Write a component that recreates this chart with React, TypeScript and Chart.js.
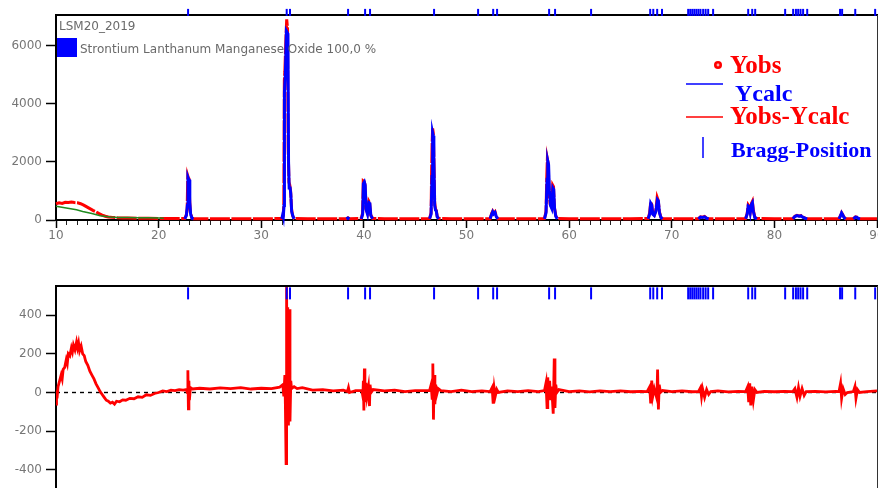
import React, { useEffect, useRef } from 'react';
import { Chart, registerables } from 'chart.js';
Chart.register(...registerables);

// ---------- data ----------
const xRange = [10, 90];
const topYTicks = [0, 2000, 4000, 6000];
const diffYTicks = [-400, -200, 0, 200, 400];

const sampleName = 'LSM20_2019';
const phaseName = 'Strontium Lanthanum Manganese Oxide 100,0 %';
const legendLabels = ['Yobs', 'Ycalc', 'Yobs-Ycalc', 'Bragg-Position'];

// observed intensity (2θ, counts)
const yobsPoints: [number, number][] = [
  [10.0, 560], [10.3, 590], [10.6, 570], [10.9, 610], [11.2, 600], [11.5, 620], [11.8, 600], [12.1, 590],
  [12.4, 560], [12.7, 510], [13.0, 450], [13.3, 390], [13.6, 330], [13.9, 280], [14.2, 220], [14.5, 170],
  [14.8, 130], [15.1, 105], [15.5, 90], [16.0, 75], [16.5, 70], [17.0, 66], [18.0, 62], [19.0, 58],
  [20.0, 55], [21.0, 52], [22.0, 50], [22.55, 50],
  [22.7, 180], [22.78, 380], [22.84, 1520], [22.9, 1450], [22.96, 1420], [23.02, 700], [23.1, 250], [23.25, 70],
  [23.4, 45], [24.5, 45], [26, 44], [28, 45], [30, 45], [31.5, 48], [32.0, 50],
  [32.15, 150], [32.2, 600], [32.25, 4800], [32.3, 5100], [32.4, 6200], [32.48, 6900], [32.56, 6600],
  [32.62, 2500], [32.7, 1300], [32.78, 1200], [32.86, 1000], [32.95, 400], [33.05, 150],
  [33.2, 50], [34.5, 45], [36, 44], [37.5, 44], [38.3, 45], [38.45, 75], [38.6, 45], [39.75, 50],
  [39.88, 250], [39.94, 1350], [40.02, 1330], [40.1, 1250], [40.2, 400], [40.35, 250], [40.48, 650],
  [40.56, 600], [40.66, 180], [40.85, 50], [42, 44], [44, 43], [45.5, 44], [46.4, 50],
  [46.55, 250], [46.6, 1650], [46.65, 2650], [46.7, 3150], [46.76, 3000], [46.82, 2200], [46.9, 600],
  [46.98, 380], [47.06, 330], [47.15, 120], [47.3, 50], [48.5, 44], [50, 43], [51.5, 44], [52.3, 45],
  [52.45, 220], [52.55, 300], [52.65, 230], [52.78, 280], [52.9, 130], [53.05, 45], [54.5, 43], [56, 43],
  [57.6, 50], [57.75, 300], [57.82, 1440], [57.88, 2100], [57.96, 1950], [58.04, 960], [58.15, 550],
  [58.3, 450], [58.4, 1200], [58.48, 1150], [58.56, 450], [58.7, 150], [58.85, 50], [60, 43], [62, 43],
  [64, 43], [66, 44], [67.7, 50], [67.85, 250], [67.95, 620], [68.05, 540], [68.15, 230], [68.3, 170],
  [68.45, 330], [68.58, 780], [68.68, 680], [68.8, 280], [68.95, 90], [69.1, 50], [70.5, 43], [72.0, 45],
  [72.6, 45], [72.8, 110], [73.0, 95], [73.2, 120], [73.4, 65], [73.6, 45], [75, 43], [77.2, 50],
  [77.35, 230], [77.45, 520], [77.55, 470], [77.65, 280], [77.78, 580], [77.86, 640], [77.95, 330],
  [78.1, 90], [78.3, 50], [80, 43], [81.8, 45], [82.0, 130], [82.2, 160], [82.4, 140], [82.6, 150],
  [82.8, 100], [83.0, 65], [83.2, 45], [85, 43], [86.3, 45], [86.45, 160], [86.55, 250], [86.65, 190],
  [86.8, 90], [86.95, 45], [87.7, 45], [87.9, 110], [88.05, 95], [88.2, 55], [88.35, 45], [89, 44], [90, 44],
];

// calculated profile, visible only around the reflections
const ycalcPeaks: [number, number][][] = [
  [[22.55, 40], [22.7, 150], [22.8, 500], [22.86, 1460], [22.92, 1400], [22.98, 1380], [23.04, 600], [23.12, 200], [23.25, 60], [23.4, 40]],
  [[32.0, 40], [32.1, 200], [32.15, 120], [32.22, 500], [32.26, 4400], [32.35, 5000], [32.45, 6500], [32.6, 6400], [32.66, 2000], [32.72, 1100], [32.8, 1150], [32.88, 900], [32.96, 300], [33.05, 180], [33.12, 100], [33.2, 40]],
  [[38.3, 40], [38.45, 70], [38.6, 40]],
  [[39.75, 40], [39.88, 200], [39.95, 1250], [40.05, 1310], [40.13, 1200], [40.22, 350], [40.35, 200], [40.5, 600], [40.58, 580], [40.68, 150], [40.85, 40]],
  [[46.4, 40], [46.55, 200], [46.64, 1500], [46.7, 3000], [46.76, 2900], [46.82, 2100], [46.9, 500], [46.98, 340], [47.05, 320], [47.15, 100], [47.3, 40]],
  [[52.3, 40], [52.45, 200], [52.55, 280], [52.65, 210], [52.78, 260], [52.9, 120], [53.05, 40]],
  [[57.6, 40], [57.75, 250], [57.85, 1400], [57.92, 2030], [58.0, 1900], [58.08, 1000], [58.18, 500], [58.3, 400], [58.42, 1100], [58.5, 1050], [58.58, 400], [58.7, 120], [58.85, 40]],
  [[67.7, 40], [67.85, 200], [67.95, 580], [68.05, 520], [68.15, 200], [68.3, 150], [68.45, 300], [68.6, 700], [68.7, 650], [68.8, 250], [68.95, 80], [69.1, 40]],
  [[72.6, 40], [72.8, 100], [73.0, 90], [73.2, 110], [73.4, 60], [73.6, 40]],
  [[77.2, 40], [77.35, 200], [77.45, 480], [77.55, 450], [77.65, 250], [77.78, 550], [77.86, 600], [77.95, 300], [78.1, 80], [78.3, 40]],
  [[81.8, 40], [82.0, 120], [82.2, 150], [82.4, 130], [82.6, 140], [82.8, 90], [83.0, 60], [83.2, 40]],
  [[86.3, 40], [86.45, 150], [86.55, 240], [86.65, 180], [86.8, 80], [86.95, 40]],
  [[87.7, 40], [87.9, 100], [88.05, 90], [88.2, 50], [88.35, 40]],
];

// background line (low angle part)
const backgroundPoints: [number, number][] = [
  [10, 470], [11, 410], [12, 350], [12.6, 290], [13.5, 220], [14.3, 150], [15.3, 100], [16, 90],
  [17, 82], [18, 78], [19, 74], [20, 68], [20.5, 62],
];

// difference curve Yobs - Ycalc
const diffPoints: [number, number][] = [
  [10.0, -60], [10.05, 10], [10.1, -30], [10.2, 30], [10.35, 60], [10.5, 90], [10.6, 70], [10.7, 120],
  [10.85, 130], [11.0, 170], [11.1, 150], [11.2, 200], [11.35, 190], [11.5, 230], [11.6, 210], [11.7, 245],
  [11.85, 220], [12.0, 260], [12.1, 230], [12.2, 255], [12.3, 215], [12.45, 240], [12.6, 200], [12.75, 190],
  [12.9, 160], [13.1, 140], [13.3, 110], [13.5, 90], [13.7, 70], [13.9, 45], [14.1, 25], [14.3, 5],
  [14.5, -10], [14.7, -25], [14.9, -40], [15.1, -45], [15.3, -55], [15.5, -50], [15.7, -60], [15.9, -45],
  [16.2, -48], [16.5, -38], [16.8, -40], [17.2, -30], [17.6, -32], [18.0, -22], [18.4, -25], [18.8, -12],
  [19.2, -15], [19.6, -5], [20.0, 0], [20.4, 8], [20.8, 5], [21.2, 12], [21.6, 10], [22.0, 15], [22.4, 12],
  [22.7, 15], [22.8, 0], [22.85, 115], [22.9, -85], [22.95, 60], [23.0, -40], [23.1, 25], [23.3, 18],
  [24, 22], [25, 18], [26, 24], [27, 20], [28, 25], [29, 18], [30, 22], [31, 20], [31.8, 28], [32.1, 40],
  [32.2, -20], [32.3, 90], [32.35, -60], [32.42, -367], [32.47, 545], [32.52, -100], [32.58, 440],
  [32.65, -170], [32.72, 430], [32.8, -150], [32.88, 60], [32.95, 20], [33.2, 30], [33.5, 20], [34, 25],
  [35, 12], [36, 15], [37, 8], [38, 12], [38.4, 5], [38.5, 25], [38.6, 0], [39.2, 10], [39.8, 10],
  [39.9, -20], [39.95, 60], [40.0, -93], [40.05, 124], [40.1, -50], [40.2, 50], [40.3, -20], [40.45, 30],
  [40.55, -70], [40.6, 40], [40.7, 0], [40.9, 15], [42, 8], [43, 12], [44, 5], [45, 10], [46.4, 10],
  [46.55, 40], [46.65, -30], [46.72, 150], [46.78, -140], [46.85, 90], [46.92, -60], [47.0, 40],
  [47.1, -10], [47.25, 20], [47.5, 10], [48.5, 5], [49.5, 12], [50.5, 5], [51.5, 8], [52.3, 5],
  [52.5, 26], [52.6, -57], [52.7, 20], [52.8, -20], [52.95, 15], [53.1, 0], [54, 8], [55, 5], [56, 10],
  [57, 5], [57.6, 10], [57.75, 50], [57.85, -78], [57.92, 78], [58.0, -30], [58.1, 60], [58.2, -40],
  [58.3, 30], [58.45, -109], [58.55, 176], [58.62, -80], [58.7, 40], [58.8, 0], [59.0, 15], [60, 5],
  [61, 8], [62, 3], [63, 8], [64, 5], [65, 8], [66, 4], [67, 6], [67.6, 5], [67.85, 30], [67.95, -57],
  [68.05, 62], [68.15, -20], [68.3, 20], [68.55, -30], [68.62, 119], [68.7, -88], [68.78, 40], [68.9, 0],
  [69.1, 10], [70, 5], [71, 8], [72, 4], [72.6, 5], [72.8, 25], [72.9, -20], [73.0, 20], [73.2, -25],
  [73.4, 15], [73.6, -10], [73.8, 5], [74.5, 8], [75.5, 3], [76.5, 6], [77.2, 5], [77.4, 30], [77.5, -50],
  [77.6, 47], [77.7, -67], [77.8, 30], [77.95, -40], [78.1, 15], [78.3, 0], [79, 6], [80, 4], [81, 6],
  [81.8, 5], [82.0, 20], [82.2, -25], [82.35, 25], [82.5, -20], [82.7, 20], [82.9, -15], [83.1, 5],
  [84, 6], [85, 3], [86, 6], [86.3, 5], [86.45, 47], [86.55, -30], [86.7, 20], [86.9, -10], [87.1, 0],
  [87.7, 5], [87.85, 30], [87.95, -30], [88.1, 15], [88.3, 0], [89, 5], [90, 8],
];

// Bragg reflections (2θ)
const braggPositions: number[] = [
  22.87, 32.48, 32.8, 38.46, 40.12, 40.6, 46.84, 51.13, 52.6, 52.98, 58.05, 58.63, 62.14,
  67.9, 68.2, 68.58, 69.05, 71.6, 71.8, 72.0, 72.2, 72.4, 72.6, 72.8, 73.06, 73.3, 73.55, 74.03,
  77.45, 77.84, 78.13, 81.05, 81.83, 82.1, 82.32, 82.55, 82.8, 83.2, 86.4, 86.6, 87.88, 89.82,
];

// ---------- helpers ----------
const toXY = (pts: [number, number][]) => pts.map(([x, y]) => ({ x, y }));
const joinSegments = (segs: [number, number][][]) => {
  const out: { x: number; y: number | null }[] = [];
  segs.forEach((s, i) => {
    if (i > 0) out.push({ x: s[0][0] - 0.01, y: null });
    s.forEach(([x, y]) => out.push({ x, y }));
  });
  return out;
};

const TICK_COLOR = '#767676';
const FONT = 'DejaVu Sans';
const BRAGG_TOP_Y = 7140;
const BRAGG_DIFF_Y = 512;

const fixAxisWidth = (w: number) => (scale: any) => {
  scale.width = w;
  scale.paddingTop = 0;
  scale.paddingBottom = 0;
};
const fixAxisHeight = (h: number) => (scale: any) => {
  scale.height = h;
  scale.paddingLeft = 0;
  scale.paddingRight = 0;
};

const framePlugin = {
  id: 'frame',
  beforeDatasetsDraw(chart: any) {
    const { ctx, chartArea: a } = chart;
    ctx.save();
    ctx.strokeStyle = '#000';
    ctx.lineWidth = 2;
    ctx.beginPath();
    ctx.moveTo(a.left, a.top);
    ctx.lineTo(a.right + 2, a.top);
    ctx.stroke();
    ctx.lineWidth = 1;
    ctx.strokeStyle = '#333';
    ctx.beginPath();
    ctx.moveTo(a.right + 0.5, a.top);
    ctx.lineTo(a.right + 0.5, a.bottom);
    ctx.stroke();
    ctx.restore();
  },
};

const topDecor = {
  id: 'topDecor',
  afterDraw(chart: any) {
    const { ctx, chartArea: a } = chart;
    const xs = chart.scales.x;
    ctx.save();
    // minor ticks on the 2θ axis
    ctx.strokeStyle = '#222';
    ctx.lineWidth = 1;
    for (let v = Math.ceil(xRange[0]); v < xRange[1]; v++) {
      if (v % 10 === 0) continue;
      const px = Math.round(xs.getPixelForValue(v)) + 0.5;
      ctx.beginPath();
      ctx.moveTo(px, a.bottom + 1);
      ctx.lineTo(px, a.bottom + 5);
      ctx.stroke();
    }
    // phase legend (top left)
    ctx.fillStyle = '#6a6a6a';
    ctx.font = `12px "${FONT}"`;
    ctx.textBaseline = 'alphabetic';
    ctx.textAlign = 'left';
    ctx.fillText(sampleName, a.left + 3, 30);
    ctx.fillStyle = '#0000ff';
    ctx.fillRect(a.left + 1, 38, 20, 19);
    ctx.fillStyle = '#6a6a6a';
    ctx.fillText(phaseName, a.left + 24, 53);

    // symbol legend (right)
    ctx.font = `bold 25px "Liberation Serif"`;
    ctx.fillStyle = '#ff0000';
    ctx.beginPath();
    ctx.arc(718, 65, 4, 0, Math.PI * 2);
    ctx.fill();
    ctx.fillStyle = '#ffb0b0';
    ctx.beginPath();
    ctx.arc(718, 65, 1.4, 0, Math.PI * 2);
    ctx.fill();
    ctx.fillStyle = '#ff0000';
    ctx.fillText(legendLabels[0], 730, 73);

    ctx.strokeStyle = '#0000ff';
    ctx.lineWidth = 1.5;
    ctx.beginPath();
    ctx.moveTo(686, 84);
    ctx.lineTo(723, 84);
    ctx.stroke();
    ctx.fillStyle = '#0000ff';
    ctx.font = `bold 24px "Liberation Serif"`;
    ctx.fillText(legendLabels[1], 735, 101);

    ctx.strokeStyle = '#ff0000';
    ctx.beginPath();
    ctx.moveTo(686, 117);
    ctx.lineTo(723, 117);
    ctx.stroke();
    ctx.fillStyle = '#ff0000';
    ctx.font = `bold 25px "Liberation Serif"`;
    ctx.fillText(legendLabels[2], 730, 124);

    ctx.strokeStyle = '#0000ff';
    ctx.lineWidth = 1.5;
    ctx.beginPath();
    ctx.moveTo(703, 137);
    ctx.lineTo(703, 158);
    ctx.stroke();
    ctx.fillStyle = '#0000ff';
    ctx.font = `bold 22px "Liberation Serif"`;
    ctx.fillText(legendLabels[3], 731, 157);
    ctx.restore();
  },
};

const tickFont = { family: FONT, size: 12 };

function TopChart() {
  const ref = useRef<HTMLCanvasElement>(null);
  useEffect(() => {
    const chart = new Chart(ref.current!, {
      type: 'scatter',
      data: {
        datasets: [
          {
            label: 'Bragg',
            data: braggPositions.map((x) => ({ x, y: BRAGG_TOP_Y })),
            pointStyle: 'line',
            rotation: 90,
            pointRadius: 3.5,
            borderColor: '#0000ff',
            borderWidth: 2,
            showLine: false,
            clip: false,
            order: 0,
          } as any,
          {
            label: 'Ycalc',
            data: joinSegments(ycalcPeaks),
            showLine: true,
            spanGaps: false,
            borderColor: '#0000ff',
            borderWidth: 3,
            pointRadius: 0,
            clip: false,
            order: 1,
          },
          {
            label: 'Background',
            data: toXY(backgroundPoints),
            showLine: true,
            borderColor: '#1f8a1f',
            borderWidth: 1.5,
            pointRadius: 0,
            clip: false,
            order: 2,
          },
          {
            label: 'Yobs',
            data: toXY(yobsPoints),
            showLine: true,
            borderColor: '#ff0000',
            borderWidth: 3,
            borderDash: [20, 1.5],
            pointRadius: 0,
            clip: false,
            order: 3,
          },
        ],
      },
      options: {
        animation: false,
        responsive: false,
        events: [],
        layout: { autoPadding: false, padding: { top: 15, right: 1, left: 0, bottom: 0 } },
        plugins: { legend: { display: false }, tooltip: { enabled: false } },
        scales: {
          x: {
            type: 'linear',
            min: xRange[0],
            max: xRange[1],
            afterFit: fixAxisHeight(30),
            afterBuildTicks: (s: any) => {
              s.ticks = s.ticks.filter((t: any) => t.value % 10 === 0);
            },
            ticks: { stepSize: 10, color: TICK_COLOR, font: tickFont, padding: 1, maxRotation: 0, autoSkip: false, callback: (v: any) => String(v) },
            grid: { drawOnChartArea: false, tickLength: 8, tickColor: '#000', tickWidth: 1.5 },
            border: { color: '#000', width: 2 },
          },
          y: {
            type: 'linear',
            min: 0,
            max: 7050,
            afterFit: fixAxisWidth(56),
            afterBuildTicks: (s: any) => {
              s.ticks = topYTicks.map((value) => ({ value }));
            },
            ticks: { color: TICK_COLOR, font: tickFont, padding: 4, callback: (v: any) => String(v) },
            grid: { drawOnChartArea: false, tickLength: 10, tickColor: '#000', tickWidth: 1.5 },
            border: { color: '#000', width: 2 },
          },
        },
      },
      plugins: [framePlugin, topDecor],
    });
    return () => chart.destroy();
  }, []);
  return <canvas ref={ref} width={878} height={250} style={{ position: 'absolute', left: 0, top: 0, width: 878, height: 250 }} />;
}

function DiffChart() {
  const ref = useRef<HTMLCanvasElement>(null);
  useEffect(() => {
    const chart = new Chart(ref.current!, {
      type: 'scatter',
      data: {
        datasets: [
          {
            label: 'Bragg',
            data: braggPositions.map((x) => ({ x, y: BRAGG_DIFF_Y })),
            pointStyle: 'line',
            rotation: 90,
            pointRadius: 6,
            borderColor: '#0000ff',
            borderWidth: 2,
            showLine: false,
            clip: false,
            order: 0,
          } as any,
          {
            label: 'Yobs-Ycalc',
            data: toXY(diffPoints),
            showLine: true,
            borderColor: '#ff0000',
            borderWidth: 2.8,
            pointRadius: 0,
            order: 1,
          },
          {
            label: 'zero',
            data: [{ x: xRange[0], y: 0 }, { x: xRange[1], y: 0 }],
            showLine: true,
            borderColor: '#000',
            borderWidth: 1.4,
            borderDash: [4, 4],
            pointRadius: 0,
            order: 2,
          },
        ],
      },
      options: {
        animation: false,
        responsive: false,
        events: [],
        layout: { autoPadding: false, padding: { top: 10, right: 1, left: 0, bottom: 1 } },
        plugins: { legend: { display: false }, tooltip: { enabled: false } },
        scales: {
          x: { type: 'linear', min: xRange[0], max: xRange[1], display: false },
          y: {
            type: 'linear',
            min: -550,
            max: 550,
            afterFit: fixAxisWidth(56),
            afterBuildTicks: (s: any) => {
              s.ticks = diffYTicks.map((value) => ({ value }));
            },
            ticks: { color: TICK_COLOR, font: tickFont, padding: 4, callback: (v: any) => String(v) },
            grid: { drawOnChartArea: false, tickLength: 10, tickColor: '#000', tickWidth: 1.5 },
            border: { color: '#000', width: 2 },
          },
        },
      },
      plugins: [framePlugin],
    });
    return () => chart.destroy();
  }, []);
  return <canvas ref={ref} width={878} height={224} style={{ position: 'absolute', left: 0, top: 276, width: 878, height: 224 }} />;
}

export default function App() {
  return (
    <div style={{ position: 'fixed', left: 0, top: 0, width: 878, height: 488, overflow: 'hidden', background: '#fff' }}>
      <TopChart />
      <DiffChart />
    </div>
  );
}
